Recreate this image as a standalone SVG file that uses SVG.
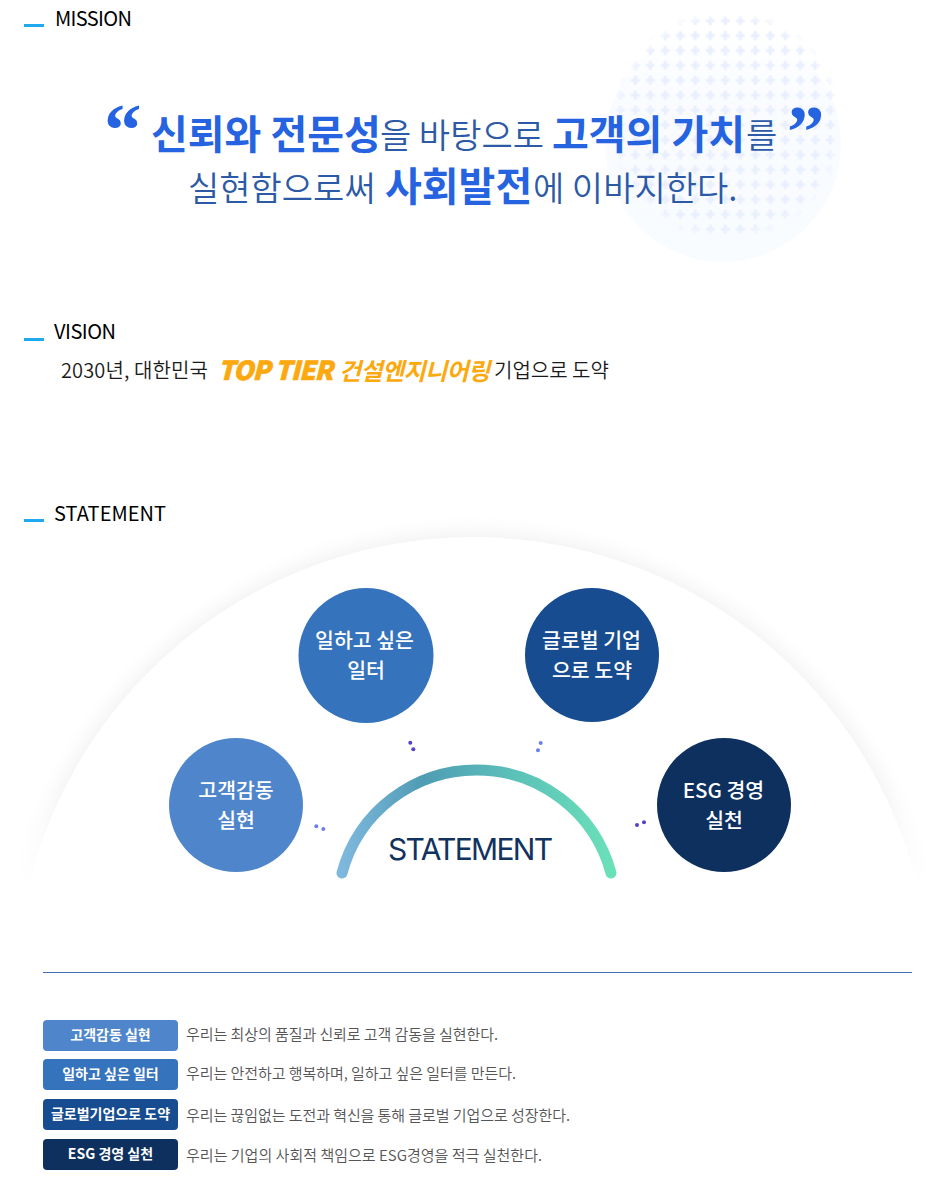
<svg xmlns="http://www.w3.org/2000/svg" width="944" height="1195" viewBox="0 0 944 1195">
<style>
text{font-family:"Noto Sans CJK KR","Noto Sans",sans-serif}
.dash{fill:#1fa9f0}
.hd{font-size:20px;fill:#000;font-weight:400}
.mb{font-size:40px;font-weight:700;fill:#2563e0}
.mr{font-size:34px;font-weight:350;fill:#2c5aa6}
.q{font-family:"Liberation Serif",serif;font-size:75px;font-weight:700;fill:#2563e0}
.v{font-size:20px;font-weight:350;fill:#1a1a1a}
.vo{font-size:26px;font-weight:900;font-style:italic;fill:#fba90f;stroke:#fba90f;stroke-width:.7px}
.vk{font-size:24px;font-weight:700;font-style:italic;fill:#fba90f}
.c{font-size:20.5px;fill:#fff;text-anchor:middle;font-weight:500}
.b{font-size:14px;fill:#fff;font-weight:700;text-anchor:middle}
.d{font-size:15px;fill:#555;font-weight:350}
.dot1{fill:#5a3fc8}.dot2{fill:#6a80e8}
</style>
<defs>
<pattern id="plus" x="620.3" y="20.7" width="15" height="14.9" patternUnits="userSpaceOnUse">
<path d="M-1.6-4.4h3.2v2.8h2.8v3.2h-2.8v2.8h-3.2v-2.8h-2.8v-3.2h2.8zM13.4-4.4h3.2v2.8h2.8v3.2h-2.8v2.8h-3.2v-2.8h-2.8v-3.2h2.8zM-1.6 10.5h3.2v2.8h2.8v3.2h-2.8v2.8h-3.2v-2.8h-2.8v-3.2h2.8zM13.4 10.5h3.2v2.8h2.8v3.2h-2.8v2.8h-3.2v-2.8h-2.8v-3.2h2.8z" fill="#eaeffe"/>
</pattern>
<linearGradient id="pale" x1="0" y1="0" x2="0" y2="1"><stop offset="0" stop-color="#f9fbff" stop-opacity="0"/><stop offset=".35" stop-color="#f9fbff"/><stop offset="1" stop-color="#f9fcff"/></linearGradient>
<radialGradient id="fadeg"><stop offset="0" stop-color="#fff"/><stop offset=".9" stop-color="#fff"/><stop offset="1" stop-color="#fff" stop-opacity="0"/></radialGradient>
<mask id="dotmask" maskUnits="userSpaceOnUse" x="590" y="0" width="270" height="260"><circle cx="727" cy="125" r="117" fill="url(#fadeg)"/></mask>
<filter id="blur" x="-10%" y="-10%" width="120%" height="120%"><feGaussianBlur stdDeviation="10"/></filter>
<linearGradient id="fadeb" x1="0" y1="0" x2="0" y2="1"><stop offset="0" stop-color="#fff" stop-opacity="0"/><stop offset="1" stop-color="#fff"/></linearGradient>
<linearGradient id="arc" gradientUnits="userSpaceOnUse" x1="342" y1="0" x2="611" y2="0"><stop offset="0" stop-color="#7fb8de"/><stop offset=".3" stop-color="#4f9cb4"/><stop offset=".65" stop-color="#5cc2b9"/><stop offset="1" stop-color="#6ae0b9"/></linearGradient>
</defs>
<rect width="944" height="1195" fill="#fff"/>

<g id="mission">
<circle cx="723" cy="144" r="118" fill="url(#pale)"/>
<rect x="600" y="0" width="250" height="260" fill="url(#plus)" mask="url(#dotmask)"/>
<rect class="dash" x="24" y="24" width="20" height="3"/>
<text class="hd" x="55" y="26" textLength="77">MISSION</text>
<text class="q" x="104" y="155">“</text>
<text class="q" x="787" y="157">”</text>
<text class="mb" x="151" y="149">신뢰와 전문성</text>
<text class="mr" x="380" y="148">을 바탕으로</text>
<text class="mb" x="552" y="149">고객의 가치</text>
<text class="mr" x="746" y="148">를</text>
<text class="mr" x="188" y="201">실현함으로써</text>
<text class="mb" x="385" y="201">사회발전</text>
<text class="mr" x="533" y="201">에 이바지한다.</text>
</g>

<g id="vision">
<rect class="dash" x="24" y="338" width="20" height="3"/>
<text class="hd" x="54" y="339" textLength="62">VISION</text>
<text class="v" x="61" y="378" textLength="147">2030년, 대한민국</text>
<text class="vo" x="218" y="380" textLength="115">TOP TIER</text>
<text class="vk" x="339" y="380" textLength="151">건설엔지니어링</text>
<text class="v" x="494" y="378">기업으로 도약</text>
</g>

<g id="statement-header">
<rect class="dash" x="24" y="519" width="20" height="3"/>
<text class="hd" x="54" y="521" textLength="112">STATEMENT</text>
</g>

<g id="dome">
<circle cx="473" cy="994.6" r="461" fill="#f0f0f3" filter="url(#blur)"/>
<circle cx="473" cy="994.6" r="457.6" fill="#fff"/>
<rect x="0" y="780" width="944" height="105" fill="url(#fadeb)"/>
<rect x="0" y="885" width="944" height="320" fill="#fff"/>
</g>

<g id="node-customer"><circle cx="236" cy="805" r="67" fill="#4f86cb"/><text class="c" x="236" y="798">고객감동</text><text class="c" x="236" y="828">실현</text></g>
<g id="node-workplace"><circle cx="366" cy="655.500" r="67.500" fill="#3673bd"/><text class="c" x="364.500" y="648">일하고 싶은</text><text class="c" x="366" y="678">일터</text></g>
<g id="node-global"><circle cx="592" cy="655" r="67" fill="#174d90"/><text class="c" x="591.500" y="648">글로벌 기업</text><text class="c" x="592" y="678">으로 도약</text></g>
<g id="node-esg"><circle cx="724" cy="805" r="67" fill="#0d305f"/><text class="c" x="723.500" y="798">ESG 경영</text><text class="c" x="724" y="828">실천</text></g>

<g id="connectors">
<path d="M342 873A139.300 139.300 0 0 1 611 873" fill="none" stroke="url(#arc)" stroke-width="11" stroke-linecap="round"/>
<circle class="dot1" cx="410.300" cy="742.700" r="2"/><circle class="dot1" cx="413.300" cy="749.300" r="2"/>
<circle class="dot2" cx="540.700" cy="743" r="2"/><circle class="dot2" cx="538" cy="750.300" r="2"/>
<circle class="dot2" cx="316.300" cy="826.300" r="2"/><circle class="dot2" cx="323.300" cy="829" r="2"/>
<circle class="dot1" cx="637" cy="825" r="2"/><circle class="dot1" cx="644" cy="822.300" r="2"/>
</g>
<g id="center-label"><text x="388" y="860" font-size="30" fill="#12325f" textLength="165" style="font-family:Inter,sans-serif">STATEMENT</text></g>

<rect id="divider" x="43" y="972" width="869" height="1" fill="#3d6fb5"/>

<g id="row1"><rect x="43" y="1020" width="135" height="31" rx="4" fill="#4f86cb"/><text class="b" x="110.500" y="1040">고객감동 실현</text><text class="d" x="186" y="1040" textLength="312">우리는 최상의 품질과 신뢰로 고객 감동을 실현한다.</text></g>
<g id="row2"><rect x="43" y="1059" width="135" height="31" rx="4" fill="#3673bd"/><text class="b" x="110.500" y="1079">일하고 싶은 일터</text><text class="d" x="186" y="1079" textLength="330">우리는 안전하고 행복하며, 일하고 싶은 일터를 만든다.</text></g>
<g id="row3"><rect x="43" y="1099" width="135" height="31" rx="4" fill="#174d90"/><text class="b" x="110.500" y="1119">글로벌기업으로 도약</text><text class="d" x="186" y="1121" textLength="384">우리는 끊임없는 도전과 혁신을 통해 글로벌 기업으로 성장한다.</text></g>
<g id="row4"><rect x="43" y="1139" width="135" height="31" rx="4" fill="#0d305f"/><text class="b" x="110.500" y="1159">ESG 경영 실천</text><text class="d" x="186" y="1161" textLength="356">우리는 기업의 사회적 책임으로 ESG경영을 적극 실천한다.</text></g>
</svg>
